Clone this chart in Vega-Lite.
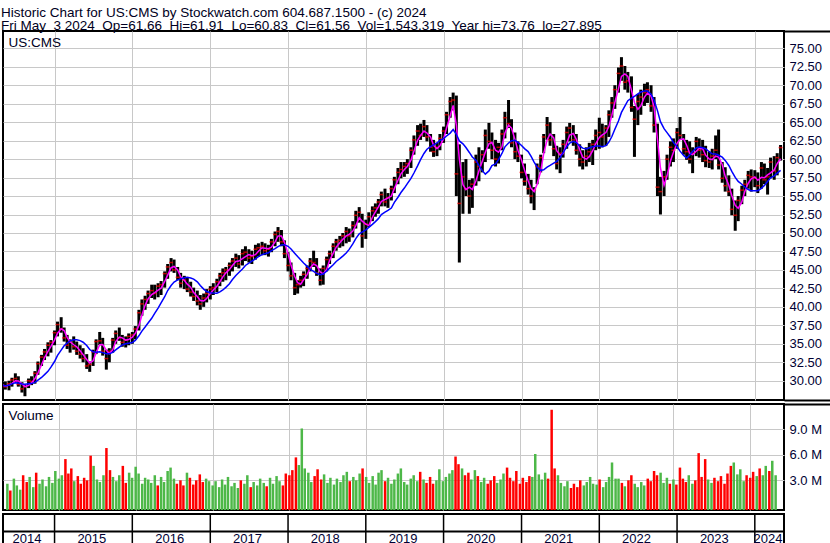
{
  "$schema": "https://vega.github.io/schema/vega-lite/v6.json",
  "background": "white",
  "padding": {"left": 1, "top": 6, "right": 0, "bottom": 0},
  "title": {
    "text": ["Historic Chart for US:CMS by Stockwatch.com 604.687.1500 - (c) 2024", "Fri May\u00a0 3 2024\u00a0 Op=61.66\u00a0 Hi=61.91\u00a0 Lo=60.83\u00a0 Cl=61.56\u00a0 Vol=1,543,319\u00a0 Year hi=73.76\u00a0 lo=27.895"],
    "anchor": "start", "font": "Liberation Sans", "fontSize": 13.5, "fontWeight": "normal", "color": "#000022",
    "lineHeight": 12.5, "baseline": "top", "offset": -3
  },
  "config": {"view": {"stroke": "black", "strokeWidth": 2}},
  "datasets": {
    "px": [
      {"t":"2014-05-01","h":29.8,"l":28.9,"c":29.4,"v":2.6},
      {"t":"2014-05-15","h":29.9,"l":28.8,"c":29.2,"v":1.8},
      {"t":"2014-06-01","h":30.0,"l":28.7,"c":29.6,"v":3.2},
      {"t":"2014-06-15","h":30.4,"l":29.2,"c":30.1,"v":2.4},
      {"t":"2014-07-01","h":31.0,"l":29.8,"c":30.3,"v":1.9},
      {"t":"2014-07-15","h":30.6,"l":29.2,"c":29.5,"v":3.6},
      {"t":"2014-08-01","h":29.8,"l":28.4,"c":28.9,"v":2.8},
      {"t":"2014-08-15","h":29.5,"l":27.9,"c":29.2,"v":3.4},
      {"t":"2014-09-01","h":30.3,"l":29.0,"c":30.0,"v":2.2},
      {"t":"2014-09-15","h":30.6,"l":29.4,"c":29.9,"v":3.9},
      {"t":"2014-10-01","h":31.3,"l":29.6,"c":31.0,"v":2.6},
      {"t":"2014-10-15","h":32.6,"l":30.8,"c":32.3,"v":3.1},
      {"t":"2014-11-01","h":33.5,"l":32.0,"c":33.2,"v":2.3},
      {"t":"2014-11-15","h":34.3,"l":32.8,"c":33.9,"v":3.4},
      {"t":"2014-12-01","h":35.2,"l":33.3,"c":34.8,"v":2.7},
      {"t":"2014-12-15","h":35.5,"l":33.8,"c":35.2,"v":4.1},
      {"t":"2015-01-01","h":36.8,"l":34.8,"c":36.5,"v":3.2},
      {"t":"2015-01-15","h":38.0,"l":36.0,"c":37.6,"v":3.6},
      {"t":"2015-02-01","h":38.6,"l":36.5,"c":37.0,"v":5.5},
      {"t":"2015-02-15","h":37.2,"l":35.3,"c":35.8,"v":3.8},
      {"t":"2015-03-01","h":36.2,"l":34.3,"c":34.8,"v":4.4},
      {"t":"2015-03-15","h":35.6,"l":33.8,"c":35.2,"v":2.9},
      {"t":"2015-04-01","h":36.0,"l":34.2,"c":34.6,"v":3.5},
      {"t":"2015-04-15","h":35.3,"l":33.5,"c":34.0,"v":2.6},
      {"t":"2015-05-01","h":34.8,"l":33.0,"c":33.6,"v":3.3},
      {"t":"2015-05-15","h":34.4,"l":32.5,"c":33.0,"v":3.0},
      {"t":"2015-06-01","h":33.6,"l":31.6,"c":32.0,"v":5.9},
      {"t":"2015-06-15","h":32.6,"l":31.2,"c":32.2,"v":4.7},
      {"t":"2015-07-01","h":34.2,"l":32.0,"c":33.9,"v":3.1},
      {"t":"2015-07-15","h":35.6,"l":33.6,"c":35.3,"v":2.8},
      {"t":"2015-08-01","h":36.6,"l":34.8,"c":35.4,"v":3.6},
      {"t":"2015-08-15","h":35.8,"l":33.4,"c":34.0,"v":6.8},
      {"t":"2015-09-01","h":34.2,"l":31.5,"c":33.0,"v":4.2},
      {"t":"2015-09-15","h":34.4,"l":32.5,"c":34.0,"v":3.4},
      {"t":"2015-10-01","h":35.8,"l":33.8,"c":35.5,"v":2.9},
      {"t":"2015-10-15","h":36.8,"l":35.0,"c":36.4,"v":3.6},
      {"t":"2015-11-01","h":37.2,"l":35.4,"c":35.8,"v":4.7},
      {"t":"2015-11-15","h":36.2,"l":34.6,"c":35.2,"v":2.7},
      {"t":"2015-12-01","h":36.0,"l":34.5,"c":35.5,"v":3.9},
      {"t":"2015-12-15","h":36.4,"l":34.8,"c":36.0,"v":3.3},
      {"t":"2016-01-01","h":36.6,"l":35.0,"c":36.2,"v":4.6},
      {"t":"2016-01-15","h":37.4,"l":35.6,"c":37.0,"v":3.8},
      {"t":"2016-02-01","h":39.6,"l":36.8,"c":39.2,"v":2.6},
      {"t":"2016-02-15","h":41.0,"l":38.8,"c":40.4,"v":3.3},
      {"t":"2016-03-01","h":41.5,"l":39.6,"c":41.0,"v":3.1},
      {"t":"2016-03-15","h":42.2,"l":40.4,"c":41.8,"v":2.7},
      {"t":"2016-04-01","h":43.0,"l":41.2,"c":42.2,"v":3.6},
      {"t":"2016-04-15","h":43.0,"l":41.0,"c":41.8,"v":2.4},
      {"t":"2016-05-01","h":43.2,"l":41.3,"c":42.8,"v":3.4},
      {"t":"2016-05-15","h":43.5,"l":41.6,"c":43.0,"v":2.8},
      {"t":"2016-06-01","h":44.8,"l":42.6,"c":44.5,"v":4.1},
      {"t":"2016-06-15","h":45.8,"l":43.8,"c":45.4,"v":4.5},
      {"t":"2016-07-01","h":46.6,"l":44.8,"c":46.0,"v":3.2},
      {"t":"2016-07-15","h":46.4,"l":44.6,"c":45.0,"v":2.6},
      {"t":"2016-08-01","h":45.4,"l":43.6,"c":44.0,"v":3.0},
      {"t":"2016-08-15","h":44.6,"l":42.6,"c":43.2,"v":2.4},
      {"t":"2016-09-01","h":44.2,"l":42.4,"c":43.6,"v":3.9},
      {"t":"2016-09-15","h":44.0,"l":42.0,"c":42.4,"v":3.3},
      {"t":"2016-10-01","h":43.4,"l":41.4,"c":42.0,"v":2.5},
      {"t":"2016-10-15","h":42.6,"l":40.8,"c":41.4,"v":3.0},
      {"t":"2016-11-01","h":42.2,"l":40.2,"c":40.8,"v":3.7},
      {"t":"2016-11-15","h":41.6,"l":39.6,"c":40.4,"v":2.8},
      {"t":"2016-12-01","h":41.8,"l":40.0,"c":41.2,"v":3.2},
      {"t":"2016-12-15","h":42.4,"l":40.6,"c":41.8,"v":2.9},
      {"t":"2017-01-01","h":42.8,"l":41.0,"c":42.4,"v":2.4},
      {"t":"2017-01-15","h":43.2,"l":41.6,"c":42.6,"v":2.9},
      {"t":"2017-02-01","h":43.8,"l":42.0,"c":43.4,"v":2.2},
      {"t":"2017-02-15","h":44.6,"l":42.8,"c":44.2,"v":3.1},
      {"t":"2017-03-01","h":45.2,"l":43.4,"c":44.6,"v":2.5},
      {"t":"2017-03-15","h":45.4,"l":43.6,"c":45.0,"v":3.4},
      {"t":"2017-04-01","h":46.0,"l":44.2,"c":45.6,"v":2.3},
      {"t":"2017-04-15","h":46.6,"l":44.8,"c":46.2,"v":2.7},
      {"t":"2017-05-01","h":47.2,"l":45.4,"c":46.6,"v":2.1},
      {"t":"2017-05-15","h":47.0,"l":45.2,"c":45.8,"v":3.0},
      {"t":"2017-06-01","h":47.8,"l":45.6,"c":47.2,"v":2.6},
      {"t":"2017-06-15","h":48.2,"l":46.2,"c":47.4,"v":3.6},
      {"t":"2017-07-01","h":47.8,"l":46.0,"c":46.6,"v":2.2},
      {"t":"2017-07-15","h":47.6,"l":45.8,"c":46.8,"v":2.8},
      {"t":"2017-08-01","h":48.4,"l":46.4,"c":47.8,"v":2.4},
      {"t":"2017-08-15","h":48.6,"l":46.8,"c":48.0,"v":3.2},
      {"t":"2017-09-01","h":48.8,"l":47.0,"c":48.2,"v":2.7},
      {"t":"2017-09-15","h":48.6,"l":47.0,"c":47.6,"v":2.3},
      {"t":"2017-10-01","h":48.4,"l":46.8,"c":47.8,"v":3.3},
      {"t":"2017-10-15","h":49.2,"l":47.4,"c":48.8,"v":2.6},
      {"t":"2017-11-01","h":50.2,"l":48.2,"c":49.8,"v":3.5},
      {"t":"2017-11-15","h":50.8,"l":48.8,"c":50.2,"v":2.9},
      {"t":"2017-12-01","h":50.4,"l":48.2,"c":48.8,"v":2.4},
      {"t":"2017-12-15","h":49.0,"l":46.6,"c":47.2,"v":3.8},
      {"t":"2018-01-01","h":47.4,"l":44.8,"c":45.6,"v":3.6},
      {"t":"2018-01-15","h":46.0,"l":43.6,"c":44.2,"v":4.2},
      {"t":"2018-02-01","h":44.6,"l":41.6,"c":42.6,"v":5.7},
      {"t":"2018-02-15","h":43.6,"l":41.8,"c":43.0,"v":4.8},
      {"t":"2018-03-01","h":44.2,"l":42.6,"c":43.6,"v":9.1},
      {"t":"2018-03-15","h":44.8,"l":42.8,"c":44.4,"v":4.4},
      {"t":"2018-04-01","h":45.6,"l":43.8,"c":45.2,"v":3.9},
      {"t":"2018-04-15","h":46.6,"l":44.8,"c":46.2,"v":2.8},
      {"t":"2018-05-01","h":47.6,"l":45.4,"c":46.0,"v":3.5},
      {"t":"2018-05-15","h":46.6,"l":44.2,"c":44.6,"v":4.3},
      {"t":"2018-06-01","h":45.2,"l":42.9,"c":43.6,"v":3.1},
      {"t":"2018-06-15","h":45.6,"l":43.0,"c":45.2,"v":3.7},
      {"t":"2018-07-01","h":46.8,"l":44.8,"c":46.4,"v":2.7},
      {"t":"2018-07-15","h":47.6,"l":45.8,"c":47.2,"v":3.3},
      {"t":"2018-08-01","h":48.6,"l":46.6,"c":48.2,"v":2.5},
      {"t":"2018-08-15","h":49.2,"l":47.6,"c":48.8,"v":3.2},
      {"t":"2018-09-01","h":49.6,"l":48.0,"c":49.0,"v":2.8},
      {"t":"2018-09-15","h":50.0,"l":48.2,"c":49.6,"v":3.6},
      {"t":"2018-10-01","h":50.8,"l":48.6,"c":50.2,"v":4.0},
      {"t":"2018-10-15","h":50.6,"l":48.8,"c":49.6,"v":2.9},
      {"t":"2018-11-01","h":51.6,"l":49.4,"c":51.0,"v":3.4},
      {"t":"2018-11-15","h":53.0,"l":50.6,"c":52.4,"v":3.0},
      {"t":"2018-12-01","h":53.5,"l":51.4,"c":52.8,"v":3.8},
      {"t":"2018-12-15","h":52.6,"l":48.0,"c":49.6,"v":4.4},
      {"t":"2019-01-01","h":51.8,"l":49.2,"c":51.2,"v":3.4},
      {"t":"2019-01-15","h":52.8,"l":50.8,"c":52.2,"v":2.7},
      {"t":"2019-02-01","h":53.6,"l":51.6,"c":53.0,"v":3.5},
      {"t":"2019-02-15","h":54.0,"l":52.2,"c":53.4,"v":2.5},
      {"t":"2019-03-01","h":54.6,"l":52.6,"c":54.2,"v":3.9},
      {"t":"2019-03-15","h":55.6,"l":53.6,"c":55.2,"v":4.2},
      {"t":"2019-04-01","h":56.0,"l":53.6,"c":54.2,"v":2.9},
      {"t":"2019-04-15","h":55.4,"l":53.4,"c":54.8,"v":3.3},
      {"t":"2019-05-01","h":56.4,"l":54.4,"c":56.0,"v":2.6},
      {"t":"2019-05-15","h":57.6,"l":55.4,"c":57.2,"v":3.1},
      {"t":"2019-06-01","h":58.8,"l":56.6,"c":58.2,"v":3.8},
      {"t":"2019-06-15","h":59.6,"l":57.4,"c":58.6,"v":4.4},
      {"t":"2019-07-01","h":59.6,"l":57.6,"c":59.0,"v":2.8},
      {"t":"2019-07-15","h":60.0,"l":58.0,"c":59.4,"v":2.5},
      {"t":"2019-08-01","h":61.6,"l":58.8,"c":61.2,"v":3.2},
      {"t":"2019-08-15","h":63.2,"l":60.6,"c":62.6,"v":3.6},
      {"t":"2019-09-01","h":64.6,"l":61.8,"c":63.8,"v":2.9},
      {"t":"2019-09-15","h":64.8,"l":62.6,"c":63.2,"v":4.0},
      {"t":"2019-10-01","h":65.3,"l":63.0,"c":64.4,"v":3.1},
      {"t":"2019-10-15","h":64.6,"l":62.4,"c":63.0,"v":2.7},
      {"t":"2019-11-01","h":63.4,"l":61.0,"c":61.6,"v":3.4},
      {"t":"2019-11-15","h":62.6,"l":60.3,"c":61.0,"v":2.6},
      {"t":"2019-12-01","h":62.2,"l":60.4,"c":61.6,"v":3.0},
      {"t":"2019-12-15","h":63.4,"l":61.2,"c":62.8,"v":4.3},
      {"t":"2020-01-01","h":64.4,"l":62.2,"c":63.8,"v":2.9},
      {"t":"2020-01-15","h":66.4,"l":63.4,"c":66.0,"v":3.4},
      {"t":"2020-02-01","h":68.4,"l":65.6,"c":67.8,"v":3.8},
      {"t":"2020-02-15","h":69.0,"l":66.6,"c":68.0,"v":4.2},
      {"t":"2020-03-01","h":68.6,"l":55.0,"c":58.0,"v":5.8},
      {"t":"2020-03-15","h":62.0,"l":46.0,"c":54.0,"v":4.9},
      {"t":"2020-04-01","h":59.6,"l":52.6,"c":57.6,"v":4.4},
      {"t":"2020-04-15","h":60.0,"l":55.0,"c":56.0,"v":3.6},
      {"t":"2020-05-01","h":57.2,"l":52.6,"c":55.0,"v":3.9},
      {"t":"2020-05-15","h":57.4,"l":53.4,"c":56.6,"v":3.1},
      {"t":"2020-06-01","h":60.6,"l":56.4,"c":59.6,"v":4.2},
      {"t":"2020-06-15","h":61.6,"l":57.0,"c":59.0,"v":3.5},
      {"t":"2020-07-01","h":61.2,"l":58.2,"c":60.6,"v":2.8},
      {"t":"2020-07-15","h":64.0,"l":59.6,"c":63.2,"v":3.3},
      {"t":"2020-08-01","h":64.9,"l":61.4,"c":62.4,"v":2.6},
      {"t":"2020-08-15","h":63.6,"l":60.0,"c":61.2,"v":3.0},
      {"t":"2020-09-01","h":62.6,"l":59.0,"c":60.0,"v":3.5},
      {"t":"2020-09-15","h":62.2,"l":59.4,"c":61.6,"v":2.7},
      {"t":"2020-10-01","h":64.0,"l":61.2,"c":63.4,"v":3.1},
      {"t":"2020-10-15","h":66.4,"l":62.8,"c":65.6,"v":3.8},
      {"t":"2020-11-01","h":68.0,"l":64.2,"c":64.8,"v":4.5},
      {"t":"2020-11-15","h":65.4,"l":61.6,"c":62.2,"v":3.3},
      {"t":"2020-12-01","h":63.6,"l":60.0,"c":61.0,"v":2.9},
      {"t":"2020-12-15","h":62.4,"l":59.6,"c":60.4,"v":4.1},
      {"t":"2021-01-01","h":60.6,"l":57.4,"c":58.2,"v":2.6},
      {"t":"2021-01-15","h":59.4,"l":56.4,"c":57.0,"v":3.3},
      {"t":"2021-02-01","h":58.0,"l":55.2,"c":56.0,"v":2.8},
      {"t":"2021-02-15","h":57.2,"l":54.0,"c":55.0,"v":3.5},
      {"t":"2021-03-01","h":56.2,"l":53.1,"c":55.8,"v":3.4},
      {"t":"2021-03-15","h":59.4,"l":56.6,"c":59.0,"v":6.1},
      {"t":"2021-04-01","h":60.6,"l":58.2,"c":60.2,"v":3.7},
      {"t":"2021-04-15","h":63.4,"l":60.8,"c":63.0,"v":3.1},
      {"t":"2021-05-01","h":65.7,"l":62.6,"c":64.6,"v":3.9},
      {"t":"2021-05-15","h":65.0,"l":61.8,"c":62.6,"v":3.2},
      {"t":"2021-06-01","h":63.4,"l":60.4,"c":61.4,"v":11.3},
      {"t":"2021-06-15","h":61.8,"l":58.6,"c":59.4,"v":4.4},
      {"t":"2021-07-01","h":61.6,"l":58.1,"c":60.8,"v":3.6},
      {"t":"2021-07-15","h":62.6,"l":60.2,"c":62.0,"v":2.7},
      {"t":"2021-08-01","h":64.4,"l":61.4,"c":63.6,"v":2.3},
      {"t":"2021-08-15","h":64.9,"l":62.4,"c":64.2,"v":2.9},
      {"t":"2021-09-01","h":64.6,"l":61.8,"c":62.6,"v":2.1},
      {"t":"2021-09-15","h":63.4,"l":60.6,"c":61.2,"v":2.6},
      {"t":"2021-10-01","h":62.0,"l":59.0,"c":60.0,"v":2.2},
      {"t":"2021-10-15","h":61.2,"l":58.6,"c":59.6,"v":3.0},
      {"t":"2021-11-01","h":61.6,"l":59.0,"c":60.4,"v":2.4},
      {"t":"2021-11-15","h":62.2,"l":59.6,"c":61.0,"v":2.8},
      {"t":"2021-12-01","h":62.6,"l":59.2,"c":62.0,"v":3.4},
      {"t":"2021-12-15","h":64.0,"l":61.2,"c":63.2,"v":2.6},
      {"t":"2022-01-01","h":65.6,"l":61.4,"c":63.6,"v":2.5},
      {"t":"2022-01-15","h":64.8,"l":61.6,"c":63.0,"v":3.1},
      {"t":"2022-02-01","h":64.6,"l":61.8,"c":64.2,"v":2.2},
      {"t":"2022-02-15","h":66.6,"l":63.0,"c":66.0,"v":2.8},
      {"t":"2022-03-01","h":68.4,"l":65.6,"c":67.6,"v":3.4},
      {"t":"2022-03-15","h":70.0,"l":66.8,"c":69.4,"v":5.1},
      {"t":"2022-04-01","h":72.4,"l":69.0,"c":71.6,"v":3.2},
      {"t":"2022-04-15","h":73.8,"l":70.6,"c":72.6,"v":3.2},
      {"t":"2022-05-01","h":72.6,"l":69.4,"c":70.4,"v":2.7},
      {"t":"2022-05-15","h":71.8,"l":69.0,"c":70.6,"v":2.3},
      {"t":"2022-06-01","h":71.2,"l":66.4,"c":67.0,"v":3.0},
      {"t":"2022-06-15","h":67.2,"l":60.3,"c":65.4,"v":3.6},
      {"t":"2022-07-01","h":68.8,"l":64.6,"c":67.8,"v":2.6},
      {"t":"2022-07-15","h":69.4,"l":66.0,"c":68.4,"v":2.2},
      {"t":"2022-08-01","h":70.2,"l":67.2,"c":69.0,"v":2.8},
      {"t":"2022-08-15","h":70.4,"l":67.6,"c":69.4,"v":2.4},
      {"t":"2022-09-01","h":70.0,"l":66.4,"c":67.2,"v":3.2},
      {"t":"2022-09-15","h":68.4,"l":63.6,"c":64.6,"v":2.9},
      {"t":"2022-10-01","h":64.8,"l":55.0,"c":56.2,"v":4.1},
      {"t":"2022-10-15","h":57.6,"l":52.5,"c":55.6,"v":3.6},
      {"t":"2022-11-01","h":58.4,"l":55.0,"c":57.6,"v":3.9},
      {"t":"2022-11-15","h":60.6,"l":57.2,"c":60.0,"v":2.7},
      {"t":"2022-12-01","h":62.4,"l":59.0,"c":61.6,"v":3.3},
      {"t":"2022-12-15","h":62.8,"l":59.6,"c":61.2,"v":2.6},
      {"t":"2023-01-01","h":64.2,"l":61.4,"c":63.6,"v":3.1},
      {"t":"2023-01-15","h":65.7,"l":62.6,"c":63.2,"v":2.5},
      {"t":"2023-02-01","h":63.4,"l":60.6,"c":61.4,"v":4.5},
      {"t":"2023-02-15","h":62.6,"l":59.9,"c":61.0,"v":3.2},
      {"t":"2023-03-01","h":62.4,"l":59.4,"c":60.0,"v":2.8},
      {"t":"2023-03-15","h":61.6,"l":58.1,"c":60.8,"v":3.6},
      {"t":"2023-04-01","h":63.0,"l":60.4,"c":62.4,"v":2.6},
      {"t":"2023-04-15","h":62.8,"l":60.2,"c":61.2,"v":3.0},
      {"t":"2023-05-01","h":62.6,"l":59.6,"c":60.6,"v":6.2},
      {"t":"2023-05-15","h":61.8,"l":58.9,"c":59.8,"v":3.4},
      {"t":"2023-06-01","h":61.0,"l":58.8,"c":59.6,"v":5.5},
      {"t":"2023-06-15","h":61.4,"l":58.6,"c":60.4,"v":3.1},
      {"t":"2023-07-01","h":63.2,"l":60.0,"c":61.2,"v":2.7},
      {"t":"2023-07-15","h":64.0,"l":58.6,"c":59.2,"v":3.3},
      {"t":"2023-08-01","h":59.6,"l":56.8,"c":57.4,"v":2.9},
      {"t":"2023-08-15","h":58.9,"l":55.6,"c":56.4,"v":3.5},
      {"t":"2023-09-01","h":57.8,"l":55.0,"c":55.6,"v":2.6},
      {"t":"2023-09-15","h":56.0,"l":52.4,"c":53.2,"v":3.8},
      {"t":"2023-10-01","h":54.4,"l":50.3,"c":52.4,"v":4.7},
      {"t":"2023-10-15","h":55.0,"l":51.6,"c":54.4,"v":5.1},
      {"t":"2023-11-01","h":56.4,"l":53.9,"c":55.8,"v":3.7},
      {"t":"2023-11-15","h":57.2,"l":55.0,"c":56.6,"v":4.3},
      {"t":"2023-12-01","h":58.4,"l":56.0,"c":57.8,"v":2.9},
      {"t":"2023-12-15","h":58.6,"l":55.6,"c":57.6,"v":3.6},
      {"t":"2024-01-01","h":58.5,"l":56.2,"c":57.4,"v":3.3},
      {"t":"2024-01-15","h":58.2,"l":55.4,"c":56.4,"v":4.0},
      {"t":"2024-02-01","h":59.6,"l":56.0,"c":58.8,"v":3.5},
      {"t":"2024-02-15","h":59.4,"l":56.6,"c":57.2,"v":4.4},
      {"t":"2024-03-01","h":58.8,"l":55.2,"c":57.6,"v":3.6},
      {"t":"2024-03-15","h":60.2,"l":57.4,"c":59.6,"v":4.7},
      {"t":"2024-04-01","h":60.4,"l":57.2,"c":58.4,"v":4.1},
      {"t":"2024-04-15","h":60.8,"l":57.8,"c":60.2,"v":5.3},
      {"t":"2024-05-01","h":61.91,"l":59.8,"c":61.56,"v":3.6}
    ],
    "yb": [
      {"t":"2015-01-01"},{"t":"2016-01-01"},{"t":"2017-01-01"},{"t":"2018-01-01"},{"t":"2019-01-01"},
      {"t":"2020-01-01"},{"t":"2021-01-01"},{"t":"2022-01-01"},{"t":"2023-01-01"},{"t":"2024-01-01"}
    ],
    "yl": [
      {"t":"2014-08-25","y":"2014"},{"t":"2015-06-25","y":"2015"},{"t":"2016-06-25","y":"2016"},
      {"t":"2017-06-25","y":"2017"},{"t":"2018-06-25","y":"2018"},{"t":"2019-06-25","y":"2019"},
      {"t":"2020-06-25","y":"2020"},{"t":"2021-06-25","y":"2021"},{"t":"2022-06-25","y":"2022"},
      {"t":"2023-06-25","y":"2023"},{"t":"2024-03-03","y":"2024"}
    ]
  },
  "spacing": 0,
  "vconcat": [
    {
      "width": 781,
      "height": 369,
      "data": {"name": "px"},
      "transform": [
        {"window": [{"op": "mean", "field": "c", "as": "ma1"}], "frame": [-2, 0], "sort": [{"field": "t"}]},
        {"window": [{"op": "mean", "field": "c", "as": "ma2"}], "frame": [-9, 0], "sort": [{"field": "t"}]}
      ],
      "encoding": {
        "x": {"field": "t", "type": "temporal",
              "scale": {"domain": [{"year": 2014, "month": 5, "date": 4, "utc": true}, {"year": 2024, "month": 5, "date": 17, "utc": true}]},
              "axis": {"values": [
                {"year": 2015, "month": 1, "date": 1, "utc": true}, {"year": 2016, "month": 1, "date": 1, "utc": true},
                {"year": 2017, "month": 1, "date": 1, "utc": true}, {"year": 2018, "month": 1, "date": 1, "utc": true},
                {"year": 2019, "month": 1, "date": 1, "utc": true}, {"year": 2020, "month": 1, "date": 1, "utc": true},
                {"year": 2021, "month": 1, "date": 1, "utc": true}, {"year": 2022, "month": 1, "date": 1, "utc": true},
                {"year": 2023, "month": 1, "date": 1, "utc": true}, {"year": 2024, "month": 1, "date": 1, "utc": true}],
                "tickCount": 50,
                "grid": true, "gridColor": "#c8c8c8", "gridWidth": 1, "ticks": false, "labels": false, "domain": false, "title": null}}
      },
      "layer": [
        {
          "mark": {"type": "rule", "color": "black", "strokeWidth": 3, "clip": true},
          "encoding": {
            "y": {"field": "l", "type": "quantitative",
                  "scale": {"domain": [27.39, 77.34], "nice": false, "zero": false},
                  "axis": {"orient": "right", "offset": 47,
                           "title": "US:CMS", "titleX": -823, "titleY": 15, "titleAngle": 0, "titleAlign": "left", "titleBaseline": "alphabetic",
                           "titleFont": "Liberation Sans", "titleFontSize": 13.5, "titleFontWeight": "normal", "titleColor": "#000022",
                           "values": [27.39, 30, 32.5, 35, 37.5, 40, 42.5, 45, 47.5, 50, 52.5, 55, 57.5, 60, 62.5, 65, 67.5, 70, 72.5, 75, 77.34],
                           "tickCount": 50,
                           "labelExpr": "(datum.value < 29 || datum.value > 76) ? '' : format(datum.value, '.2f')",
                           "labelFont": "Liberation Sans", "labelFontSize": 13, "labelColor": "#000033", "labelPadding": 5,
                           "domain": true, "domainColor": "black", "domainWidth": 2,
                           "ticks": true, "tickSize": -47, "tickWidth": 2,
                           "tickColor": {"condition": {"test": "datum.value < 29 || datum.value > 76", "value": "black"}, "value": "transparent"},
                           "grid": true, "gridWidth": 1,
                           "gridColor": {"condition": {"test": "datum.value > 29 && datum.value < 76", "value": "#c8c8c8"}, "value": "transparent"}}},
            "y2": {"field": "h"}
          }
        },
        {
          "mark": {"type": "tick", "orient": "horizontal", "color": "#ff0000", "size": 4, "thickness": 1.5, "clip": true},
          "encoding": {
            "y": {"field": "c", "type": "quantitative", "scale": {"domain": [27.39, 77.34], "nice": false, "zero": false}}
          }
        },
        {
          "mark": {"type": "line", "color": "#ff00ff", "strokeWidth": 1.5, "clip": true},
          "encoding": {"y": {"field": "ma1", "type": "quantitative", "scale": {"domain": [27.39, 77.34], "nice": false, "zero": false}}}
        },
        {
          "mark": {"type": "line", "color": "#0000ff", "strokeWidth": 1.5, "clip": true},
          "encoding": {"y": {"field": "ma2", "type": "quantitative", "scale": {"domain": [27.39, 77.34], "nice": false, "zero": false}}}
        }
      ]
    },
    {
      "spacing": 0,
      "vconcat": [
        {
          "width": 781,
          "height": 106,
          "data": {"name": "px"},
          "transform": [{"window": [{"op": "lag", "field": "c", "as": "pc"}], "sort": [{"field": "t"}]}],
          "mark": {"type": "bar", "width": 2.5, "clip": true},
          "encoding": {
            "x": {"field": "t", "type": "temporal",
                  "scale": {"domain": [{"year": 2014, "month": 5, "date": 4, "utc": true}, {"year": 2024, "month": 5, "date": 17, "utc": true}]},
                  "axis": {"values": [
                    {"year": 2015, "month": 1, "date": 1, "utc": true}, {"year": 2016, "month": 1, "date": 1, "utc": true},
                    {"year": 2017, "month": 1, "date": 1, "utc": true}, {"year": 2018, "month": 1, "date": 1, "utc": true},
                    {"year": 2019, "month": 1, "date": 1, "utc": true}, {"year": 2020, "month": 1, "date": 1, "utc": true},
                    {"year": 2021, "month": 1, "date": 1, "utc": true}, {"year": 2022, "month": 1, "date": 1, "utc": true},
                    {"year": 2023, "month": 1, "date": 1, "utc": true}, {"year": 2024, "month": 1, "date": 1, "utc": true}],
                    "tickCount": 50,
                    "grid": true, "gridColor": "#c8c8c8", "gridWidth": 1, "ticks": false, "labels": false, "domain": false, "title": null}},
            "y": {"field": "v", "type": "quantitative",
                  "scale": {"domain": [-0.49, 11.98], "nice": false, "zero": false},
                  "axis": {"orient": "right", "offset": 47,
                           "title": "Volume", "titleX": -823, "titleY": 15, "titleAngle": 0, "titleAlign": "left", "titleBaseline": "alphabetic",
                           "titleFont": "Liberation Sans", "titleFontSize": 13.5, "titleFontWeight": "normal", "titleColor": "#000022",
                           "values": [-0.49, 3, 6, 9, 11.98],
                           "tickCount": 50,
                           "labelExpr": "datum.value > 0 && datum.value < 11 ? format(datum.value, '.1f') + ' M' : ''",
                           "labelFont": "Liberation Sans", "labelFontSize": 13, "labelColor": "#000033", "labelPadding": 5,
                           "domain": true, "domainColor": "black", "domainWidth": 2,
                           "ticks": true, "tickSize": -47, "tickWidth": 2,
                           "tickColor": {"condition": {"test": "datum.value > 11", "value": "black"}, "value": "transparent"},
                           "grid": true, "gridWidth": 1,
                           "gridColor": {"condition": {"test": "datum.value > 0 && datum.value < 11", "value": "#c8c8c8"}, "value": "transparent"}}},
            "y2": {"datum": -0.49},
            "color": {"condition": [{"test": "datum.c > datum.pc", "value": "#4db848"}, {"test": "datum.c == datum.pc", "value": "#a8a8a8"}], "value": "#ff0000"}
          }
        },
        {
          "width": 781,
          "height": 32,
          "layer": [
            {
              "data": {"name": "yb"},
              "mark": {"type": "rule", "color": "black", "strokeWidth": 1.5},
              "encoding": {
                "x": {"field": "t", "type": "temporal",
                      "scale": {"domain": [{"year": 2014, "month": 5, "date": 4, "utc": true}, {"year": 2024, "month": 5, "date": 17, "utc": true}]},
                      "axis": null},
                "y": {"datum": 0, "type": "quantitative",
                      "scale": {"domain": [0, 2.2], "nice": false, "zero": false},
                      "axis": {"orient": "right", "offset": 47, "title": null, "values": [0], "labels": false, "grid": false,
                               "domain": true, "domainColor": "black", "domainWidth": 2,
                               "ticks": true, "tickSize": -47, "tickWidth": 2, "tickColor": "black"}},
                "y2": {"datum": 2.2}
              }
            },
            {
              "data": {"values": [{}]},
              "mark": {"type": "rule", "color": "black", "strokeWidth": 2},
              "encoding": {"y": {"datum": 1, "type": "quantitative"}}
            },
            {
              "data": {"name": "yl"},
              "mark": {"type": "text", "font": "Liberation Sans", "fontSize": 13, "color": "#000033", "align": "center", "baseline": "middle"},
              "encoding": {
                "x": {"field": "t", "type": "temporal"},
                "y": {"datum": 0.45, "type": "quantitative"},
                "text": {"field": "y"}
              }
            }
          ]
        }
      ]
    }
  ]
}
